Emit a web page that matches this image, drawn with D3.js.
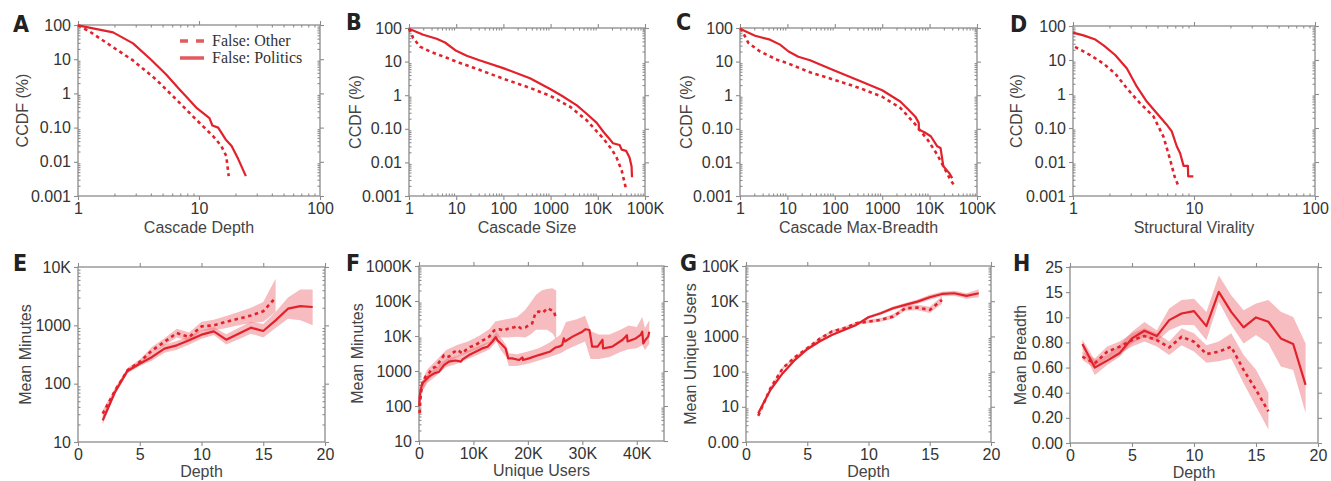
<!DOCTYPE html>
<html><head><meta charset="utf-8">
<script src="https://cdn.jsdelivr.net/npm/d3@7"></script>
<style>
body{margin:0;background:#fff;}
svg text{font-family:"Liberation Sans",Arial,sans-serif;}
</style></head>
<body><svg id="chart" width="1331" height="481"></svg>
<script>
// ---------- DATA ----------
// A: cascade depth CCDF
const aOtherX = [1, 1.25, 1.83, 2.85, 4.44, 6.5, 9.5, 13.1, 15.3, 16.8, 17.6];
const aOtherY = [98, 64, 26, 9.2, 2.5, 0.66, 0.17, 0.056, 0.029, 0.0147, 0.0038];
const aPolX = [1, 1.95, 2.85, 4.04, 5.38, 6.94, 7.9, 9.6, 12.2, 12.9, 14.4, 16.6, 18.6, 21.1, 24.4];
const aPolY = [98, 61, 29, 9.5, 3.5, 1.28, 0.78, 0.37, 0.19, 0.115, 0.1, 0.045, 0.029, 0.012, 0.0038];
// B: cascade size CCDF
const bOtherX = [1, 1.23, 1.71, 2.78, 6.3, 10, 31, 99, 366, 1000, 2600, 5800, 13000, 19500, 25000, 32000, 39000];
const bOtherY = [95, 50, 28, 20, 13, 10, 5.7, 3.1, 1.65, 0.95, 0.45, 0.18, 0.052, 0.025, 0.014, 0.0058, 0.0018];
const bPolX = [1, 2, 3.85, 5.8, 10, 16.7, 31, 99, 366, 1000, 1760, 3600, 5800, 9500, 13000, 17700, 21000, 29000, 32000, 40000, 47000, 52000, 53000];
const bPolY = [95, 63, 48, 37, 21, 15, 11, 6.4, 3.2, 1.5, 0.95, 0.5, 0.28, 0.15, 0.083, 0.05, 0.037, 0.033, 0.024, 0.022, 0.014, 0.0075, 0.0036];
// C: cascade max-breadth CCDF
const cOtherX = [1, 1.08, 1.5, 2.65, 6, 10, 30, 95, 350, 1000, 2400, 4700, 9200, 14500, 21000, 27000, 35000];
const cOtherY = [95, 89, 36, 20, 11.4, 9, 4.8, 2.9, 1.6, 0.9, 0.42, 0.15, 0.046, 0.017, 0.0063, 0.0032, 0.0018];
const cPolX = [1, 2.08, 4.3, 7, 10.6, 17, 30, 95, 350, 1000, 2400, 3600, 5000, 5900, 5950, 7600, 10600, 14500, 17000, 19500, 26000, 30000];
const cPolY = [95, 59, 45, 32, 20, 14, 11, 5.5, 2.6, 1.4, 0.65, 0.37, 0.23, 0.15, 0.093, 0.08, 0.06, 0.03, 0.027, 0.0077, 0.0048, 0.0034];
// D: structural virality CCDF
const dOtherX = [1.04, 1.39, 1.79, 2.23, 2.79, 3.59, 4.62, 5.6, 6.35, 6.9, 7.45];
const dOtherY = [24.3, 13.9, 7.8, 4.0, 1.46, 0.53, 0.22, 0.055, 0.0117, 0.0038, 0.0019];
const dPolX = [1, 1.22, 1.53, 1.79, 2.23, 2.79, 3.37, 4.07, 4.93, 5.95, 6.55, 6.76, 7.2, 7.68, 8.2, 8.9, 8.95, 9.87];
const dPolY = [64, 53, 40, 27, 14, 5.6, 1.64, 0.6, 0.27, 0.125, 0.08, 0.057, 0.029, 0.018, 0.0077, 0.0077, 0.0038, 0.0038];

// E: mean minutes vs depth
const ePolDepth = [2, 3, 4, 5, 6, 7, 8, 9, 10, 11, 12, 13, 14, 15, 16, 17, 18, 19];
const ePolMean = [23.5, 72, 165, 220, 287, 398, 454, 553, 692, 788, 567, 720, 912, 800, 1218, 1930, 2140, 2060];
const ePolLo = [20, 65, 150, 200, 250, 340, 380, 470, 590, 680, 470, 580, 720, 620, 900, 1300, 1220, 1000];
const ePolHi = [28, 80, 180, 240, 330, 470, 540, 650, 820, 940, 700, 900, 1150, 1050, 1700, 3000, 4100, 4100];
const eOthDepth = [2, 3, 4, 5, 6, 7, 8, 9, 10, 11, 12, 13, 14, 15, 16];
const eOthMean = [30.6, 76, 169, 236, 372, 520, 737, 630, 960, 1000, 1150, 1300, 1470, 1740, 2980];
const eOthLo = [27, 68, 155, 215, 330, 450, 620, 540, 800, 820, 900, 1000, 1100, 1150, 1700];
const eOthHi = [35, 85, 185, 260, 430, 600, 870, 750, 1150, 1250, 1450, 1700, 2000, 2500, 6300];

// F: mean minutes vs unique users
const fPolUsers = [50, 120, 300, 600, 1200, 1800, 2800, 3700, 4600, 5500, 6700, 7700, 8000, 9200, 10400, 11600, 12600, 13500, 14100, 14400, 15300, 15900, 16400, 17100, 18400, 19000, 19100, 20200, 22000, 24000, 25100, 25700, 26300, 26600, 26800, 28200, 30000, 30600, 31300, 31600, 31800, 32800, 33700, 33800, 35500, 37400, 38200, 38300, 39800, 40700, 41000, 41200, 41600, 42100, 42300];
const fPolMean = [100, 185, 286, 445, 553, 690, 857, 955, 1480, 1850, 1990, 1850, 2150, 2850, 3540, 4420, 4950, 6950, 9250, 7600, 5520, 4420, 2300, 2300, 2060, 2450, 2060, 2300, 2850, 3540, 4700, 4950, 5520, 8600, 6950, 9600, 13300, 15600, 14800, 8000, 4950, 4950, 7800, 4400, 4950, 7800, 10500, 7000, 8500, 10700, 13300, 6150, 7800, 9600, 13300];
const fPolBandX = [50, 500, 1500, 3000, 5000, 7000, 9000, 11000, 13000, 14200, 15000, 16000, 16500, 18000, 20000, 22000, 24000, 26000, 27000, 29000, 30500, 31500, 33000, 35000, 37000, 38500, 40000, 41000, 41500, 42300];
const fPolBandLo = [70, 250, 450, 700, 1300, 1600, 2200, 3000, 4200, 7000, 4000, 2500, 1400, 1400, 1600, 2000, 2500, 3200, 4000, 5500, 7000, 2200, 2200, 2500, 3500, 4200, 4500, 5500, 4000, 6000];
const fPolBandHi = [130, 400, 800, 1200, 2200, 2700, 3800, 5200, 7000, 13000, 9000, 5500, 3200, 3000, 3600, 4500, 6500, 11000, 25000, 30000, 38000, 14000, 11000, 11000, 15000, 20000, 18000, 35000, 17000, 28000];
const fOthUsers = [100, 300, 600, 1200, 1800, 2400, 3100, 4000, 4600, 5500, 6100, 7000, 8000, 8600, 9500, 10400, 11300, 11900, 12900, 13800, 14700, 15600, 16500, 17500, 18100, 18700, 19600, 20200, 20800, 21400, 22000, 22700, 23600, 24200, 24800, 25100];
const fOthMean = [62, 185, 445, 690, 857, 1190, 1330, 2060, 2850, 2570, 3200, 3970, 3200, 3970, 4950, 5520, 6950, 7800, 9600, 14400, 15600, 14400, 16600, 17800, 19300, 16600, 17800, 20600, 23000, 46000, 50000, 46000, 62000, 56000, 50000, 34000];
const fOthBandX = [50, 500, 1500, 3000, 5000, 7000, 9000, 11000, 13000, 14000, 16000, 18000, 19500, 20500, 21500, 22500, 23500, 24500, 25200];
const fOthBandLo = [40, 250, 500, 900, 1600, 2500, 3300, 4500, 6500, 9000, 9000, 9500, 9000, 11000, 15000, 15000, 15000, 12000, 8000];
const fOthBandHi = [90, 500, 1100, 1900, 4000, 5500, 7000, 10000, 16000, 26000, 30000, 35000, 55000, 90000, 150000, 200000, 220000, 230000, 200000];

// G: mean unique users vs depth
const gPolDepth = [1, 2, 3, 4, 5, 6, 7, 8, 9, 10, 11, 12, 13, 14, 15, 16, 17, 18, 19];
const gPolMean = [6.6, 30.5, 90, 216, 433, 715, 1100, 1530, 2120, 3500, 4550, 6300, 7840, 9750, 12900, 16050, 16800, 14100, 16800];
const gPolLo = [5.8, 28, 84, 200, 405, 670, 1030, 1420, 1960, 3200, 4100, 5600, 6900, 8500, 11000, 13800, 14200, 11800, 13000];
const gPolHi = [7.5, 33, 96, 232, 463, 765, 1180, 1650, 2300, 3850, 5050, 7100, 8900, 11200, 15200, 18700, 19900, 16800, 22000];
const gOthDepth = [1, 2, 3, 4, 5, 6, 7, 8, 9, 10, 11, 12, 13, 14, 15, 16];
const gOthMean = [5.6, 34, 125, 257, 462, 850, 1375, 1710, 2370, 2630, 2950, 3650, 6300, 6580, 5650, 10870];
const gOthLo = [4.8, 31, 115, 240, 430, 790, 1270, 1570, 2150, 2350, 2600, 3150, 5400, 5500, 4600, 8500];
const gOthHi = [6.5, 37, 136, 275, 495, 915, 1490, 1860, 2600, 2950, 3350, 4250, 7300, 7900, 7000, 13800];

// H: mean breadth vs depth
const hPolDepth = [1, 2, 3, 4, 5, 6, 7, 8, 9, 10, 11, 12, 13, 14, 15, 16, 17, 18, 19];
const hPolMean = [14.06, 10.71, 11.70, 12.74, 14.86, 15.94, 15.19, 17.45, 18.40, 18.73, 16.60, 21.46, 18.63, 16.42, 17.83, 17.22, 14.86, 14.06, 8.25];
const hPolLo = [13.2, 9.67, 11.08, 12.26, 14.15, 15.1, 14.4, 16.0, 16.75, 16.75, 14.6, 20.05, 16.75, 14.15, 15.33, 14.15, 10.85, 10.38, 4.25];
const hPolHi = [14.7, 11.79, 12.5, 13.92, 15.8, 17.2, 16.0, 19.1, 20.3, 20.5, 18.6, 23.8, 21.0, 18.87, 19.8, 20.3, 18.63, 17.9, 14.15];
const hOthDepth = [1, 2, 3, 4, 5, 6, 7, 8, 9, 10, 11, 12, 13, 14, 15, 16];
const hOthMean = [12.26, 11.32, 12.97, 13.68, 14.62, 15.19, 14.62, 13.58, 15.09, 14.39, 12.64, 12.97, 13.68, 10.38, 7.55, 4.48];
const hOthLo = [11.8, 10.6, 12.0, 12.7, 13.7, 14.4, 13.7, 12.5, 13.9, 13.0, 11.4, 11.6, 12.0, 8.5, 5.2, 1.9];
const hOthHi = [12.97, 12.0, 13.7, 14.4, 15.6, 16.3, 15.6, 14.4, 16.3, 15.6, 13.9, 14.4, 15.6, 12.5, 10.4, 7.1];

// Tick labels
const ccdfTickVals = [100, 10, 1, 0.1, 0.01, 0.001];
const ccdfTickLabels = ["100", "10", "1", "0.10", "0.01", "0.001"];
const xLog100Vals = [1, 10, 100];
const xLog100Labels = ["1", "10", "100"];
const xLog100KVals = [1, 10, 100, 1000, 10000, 100000];
const xLog100KLabels = ["1", "10", "100", "1000", "10K", "100K"];
const depthTickVals = [0, 5, 10, 15, 20];
const depthTickLabels = ["0", "5", "10", "15", "20"];
const eYTickVals = [10000, 1000, 100, 10];
const eYTickLabels = ["10K", "1000", "100", "10"];
const fXTickVals = [0, 10000, 20000, 30000, 40000];
const fXTickLabels = ["0", "10K", "20K", "30K", "40K"];
const fYTickVals = [1e6, 1e5, 1e4, 1000, 100, 10];
const fYTickLabels = ["1000K", "100K", "10K", "1000", "100", "10"];
const gYTickVals = [1e5, 1e4, 1000, 100, 10, 1];
const gYTickLabels = ["100K", "10K", "1000", "100", "10", "0.00"];
const hYTickLabels = ["0.00", "0.20", "0.40", "0.60", "0.80", "10", "15", "25"];
const legendLabels = ["False: Other", "False: Politics"];

// ---------- DRAWING ----------
const RED = "#e2222b";
const BAND = "#ec6a70";
const AXIS = "#8c8c8c";
const svg = d3.select("#chart");

function zip(xs, ys) { return xs.map((v, i) => [v, ys[i]]); }
function zip3(xs, lo, hi) { return xs.map((v, i) => [v, lo[i], hi[i]]); }

function logMinor(domain) {
  const out = [];
  const k0 = Math.floor(Math.log10(domain[0])), k1 = Math.ceil(Math.log10(domain[1]));
  for (let k = k0; k < k1; k++) for (let m = 2; m <= 9; m++) {
    const v = m * Math.pow(10, k);
    if (v > domain[0] && v < domain[1]) out.push(v);
  }
  return out;
}

function panel(p) {
  const g = svg.append("g");
  const x = (p.xLog ? d3.scaleLog() : d3.scaleLinear()).domain(p.xDomain).range([p.l, p.r]);
  const y = (p.yLog ? d3.scaleLog() : d3.scaleLinear()).domain(p.yDomain).range([p.b, p.t]);

  g.append("rect").attr("x", p.l).attr("y", p.t).attr("width", p.r - p.l).attr("height", p.b - p.t)
    .attr("fill", "none").attr("stroke", AXIS).attr("stroke-width", 1.3);

  function styleAxis(sel) {
    sel.select(".domain").remove();
    sel.selectAll(".tick line").attr("stroke", AXIS).attr("stroke-width", 1.1);
    sel.selectAll(".tick text").attr("fill", "#333").style("font-size", "16px");
  }
  const bottom = g.append("g").attr("transform", `translate(0,${p.b})`)
    .call(d3.axisBottom(x).tickValues(p.xTickVals).tickFormat((d, i) => p.xTickLabels[i]).tickSizeInner(4).tickSizeOuter(0).tickPadding(3));
  styleAxis(bottom);
  const left = g.append("g").attr("transform", `translate(${p.l},0)`)
    .call(d3.axisLeft(y).tickValues(p.yTickVals).tickFormat((d, i) => p.yTickLabels[i]).tickSizeInner(4).tickSizeOuter(0).tickPadding(3));
  styleAxis(left);
  const top = g.append("g").attr("transform", `translate(0,${p.t})`)
    .call(d3.axisTop(x).tickValues(p.xTickVals).tickFormat("").tickSizeInner(4).tickSizeOuter(0));
  styleAxis(top);
  const right = g.append("g").attr("transform", `translate(${p.r},0)`)
    .call(d3.axisRight(y).tickValues(p.yTickVals).tickFormat("").tickSizeInner(4).tickSizeOuter(0));
  styleAxis(right);
  if (p.xLog) {
    const mv = logMinor(p.xDomain);
    [[d3.axisBottom, p.b], [d3.axisTop, p.t]].forEach(([ax, pos]) => {
      const a = g.append("g").attr("transform", `translate(0,${pos})`).call(ax(x).tickValues(mv).tickFormat("").tickSizeInner(-2.5).tickSizeOuter(0));
      styleAxis(a);
    });
  }
  if (p.yLog) {
    const mv = logMinor(p.yDomain);
    [[d3.axisLeft, p.l], [d3.axisRight, p.r]].forEach(([ax, pos]) => {
      const a = g.append("g").attr("transform", `translate(${pos},0)`).call(ax(y).tickValues(mv).tickFormat("").tickSizeInner(-2.5).tickSizeOuter(0));
      styleAxis(a);
    });
  }

  g.append("text").attr("x", (p.l + p.r) / 2).attr("y", p.b + p.xTitleDy).attr("text-anchor", "middle")
    .attr("fill", "#444").style("font-size", "16px").text(p.xTitle);
  g.append("text").attr("transform", `translate(${p.yTitleX},${(p.t + p.b) / 2}) rotate(-90)`)
    .attr("text-anchor", "middle").attr("dy", "0.35em").attr("fill", "#444").style("font-size", "16px").text(p.yTitle);
  g.append("text").attr("x", p.letterX).attr("y", p.letterY)
    .style("font-family", "'Liberation Sans Narrow','DejaVu Sans Condensed','Arial Narrow',sans-serif")
    .style("font-weight", "bold").style("font-size", "23px").attr("fill", "#222").text(p.letter);

  (p.bands || []).forEach(bd => {
    const area = d3.area().x(d => x(d[0])).y0(d => y(d[1])).y1(d => y(d[2]));
    g.append("path").datum(bd).attr("d", area).attr("fill", BAND).attr("fill-opacity", 0.45).attr("stroke", "none");
  });
  const line = d3.line().x(d => x(d[0])).y(d => y(d[1]));
  p.lines.forEach(ln => {
    g.append("path").datum(ln.data).attr("d", line).attr("fill", "none").attr("stroke", RED)
      .attr("stroke-width", ln.dashed ? 2.6 : 2.2)
      .attr("stroke-dasharray", ln.dashed ? "3.5,3.5" : null)
      .attr("stroke-linejoin", "round");
  });
  return { g, x, y };
}

const A = panel({ letter: "A", letterX: 13, letterY: 32, l: 78, r: 320, t: 25, b: 196,
  xLog: true, yLog: true, xDomain: [1, 100], yDomain: [0.001, 100],
  xTickVals: xLog100Vals, xTickLabels: xLog100Labels, yTickVals: ccdfTickVals, yTickLabels: ccdfTickLabels,
  xTitle: "Cascade Depth", xTitleDy: 37, yTitle: "CCDF (%)", yTitleX: 22,
  lines: [{ data: zip(aOtherX, aOtherY), dashed: true }, { data: zip(aPolX, aPolY), dashed: false }] });

// legend in A
const legG = A.g.append("g");
const legColor = "#e05a5e";
legG.append("line").attr("x1", 180).attr("x2", 204).attr("y1", 41).attr("y2", 41)
  .attr("stroke", legColor).attr("stroke-width", 3.5).attr("stroke-dasharray", "8,8");
legG.append("line").attr("x1", 180).attr("x2", 204).attr("y1", 58).attr("y2", 58)
  .attr("stroke", legColor).attr("stroke-width", 3.5);
legendLabels.forEach((t, i) => {
  legG.append("text").attr("x", 212).attr("y", 46 + i * 17)
    .style("font-family", "'Liberation Serif','Times New Roman',serif").style("font-size", "16px")
    .attr("fill", "#333").text(t);
});

panel({ letter: "B", letterX: 346, letterY: 30, l: 409, r: 645, t: 28, b: 196,
  xLog: true, yLog: true, xDomain: [1, 100000], yDomain: [0.001, 100],
  xTickVals: xLog100KVals, xTickLabels: xLog100KLabels, yTickVals: ccdfTickVals, yTickLabels: ccdfTickLabels,
  xTitle: "Cascade Size", xTitleDy: 37, yTitle: "CCDF (%)", yTitleX: 355,
  lines: [{ data: zip(bOtherX, bOtherY), dashed: true }, { data: zip(bPolX, bPolY), dashed: false }] });

panel({ letter: "C", letterX: 676, letterY: 30, l: 740, r: 977, t: 28, b: 196,
  xLog: true, yLog: true, xDomain: [1, 100000], yDomain: [0.001, 100],
  xTickVals: xLog100KVals, xTickLabels: xLog100KLabels, yTickVals: ccdfTickVals, yTickLabels: ccdfTickLabels,
  xTitle: "Cascade Max-Breadth", xTitleDy: 37, yTitle: "CCDF (%)", yTitleX: 686,
  lines: [{ data: zip(cOtherX, cOtherY), dashed: true }, { data: zip(cPolX, cPolY), dashed: false }] });

panel({ letter: "D", letterX: 1010, letterY: 32, l: 1073, r: 1315, t: 26, b: 196,
  xLog: true, yLog: true, xDomain: [1, 100], yDomain: [0.001, 100],
  xTickVals: xLog100Vals, xTickLabels: xLog100Labels, yTickVals: ccdfTickVals, yTickLabels: ccdfTickLabels,
  xTitle: "Structural Virality", xTitleDy: 37, yTitle: "CCDF (%)", yTitleX: 1016,
  lines: [{ data: zip(dOtherX, dOtherY), dashed: true }, { data: zip(dPolX, dPolY), dashed: false }] });

panel({ letter: "E", letterX: 13, letterY: 271, l: 78, r: 325, t: 267, b: 442,
  xLog: false, yLog: true, xDomain: [0, 20], yDomain: [10, 10000],
  xTickVals: depthTickVals, xTickLabels: depthTickLabels, yTickVals: eYTickVals, yTickLabels: eYTickLabels,
  xTitle: "Depth", xTitleDy: 35, yTitle: "Mean Minutes", yTitleX: 25,
  bands: [zip3(eOthDepth, eOthLo, eOthHi), zip3(ePolDepth, ePolLo, ePolHi)],
  lines: [{ data: zip(eOthDepth, eOthMean), dashed: true }, { data: zip(ePolDepth, ePolMean), dashed: false }] });

panel({ letter: "F", letterX: 346, letterY: 271, l: 419, r: 664, t: 266, b: 441,
  xLog: false, yLog: true, xDomain: [0, 45000], yDomain: [10, 1e6],
  xTickVals: fXTickVals, xTickLabels: fXTickLabels, yTickVals: fYTickVals, yTickLabels: fYTickLabels,
  xTitle: "Unique Users", xTitleDy: 35, yTitle: "Mean Minutes", yTitleX: 357,
  bands: [zip3(fOthBandX, fOthBandLo, fOthBandHi), zip3(fPolBandX, fPolBandLo, fPolBandHi)],
  lines: [{ data: zip(fOthUsers, fOthMean), dashed: true }, { data: zip(fPolUsers, fPolMean), dashed: false }] });

panel({ letter: "G", letterX: 680, letterY: 271, l: 746, r: 991, t: 266, b: 442,
  xLog: false, yLog: true, xDomain: [0, 20], yDomain: [1, 1e5],
  xTickVals: depthTickVals, xTickLabels: depthTickLabels, yTickVals: gYTickVals, yTickLabels: gYTickLabels,
  xTitle: "Depth", xTitleDy: 35, yTitle: "Mean Unique Users", yTitleX: 690,
  bands: [zip3(gOthDepth, gOthLo, gOthHi), zip3(gPolDepth, gPolLo, gPolHi)],
  lines: [{ data: zip(gOthDepth, gOthMean), dashed: true }, { data: zip(gPolDepth, gPolMean), dashed: false }] });

panel({ letter: "H", letterX: 1013, letterY: 271, l: 1070, r: 1318, t: 267, b: 443,
  xLog: false, yLog: false, xDomain: [0, 20], yDomain: [0, 25],
  xTickVals: depthTickVals, xTickLabels: depthTickLabels,
  yTickVals: d3.range(hYTickLabels.length).map(i => i * 25 / (hYTickLabels.length - 1)), yTickLabels: hYTickLabels,
  xTitle: "Depth", xTitleDy: 35, yTitle: "Mean Breadth", yTitleX: 1020,
  bands: [zip3(hOthDepth, hOthLo, hOthHi), zip3(hPolDepth, hPolLo, hPolHi)],
  lines: [{ data: zip(hOthDepth, hOthMean), dashed: true }, { data: zip(hPolDepth, hPolMean), dashed: false }] });
</script></body></html>
